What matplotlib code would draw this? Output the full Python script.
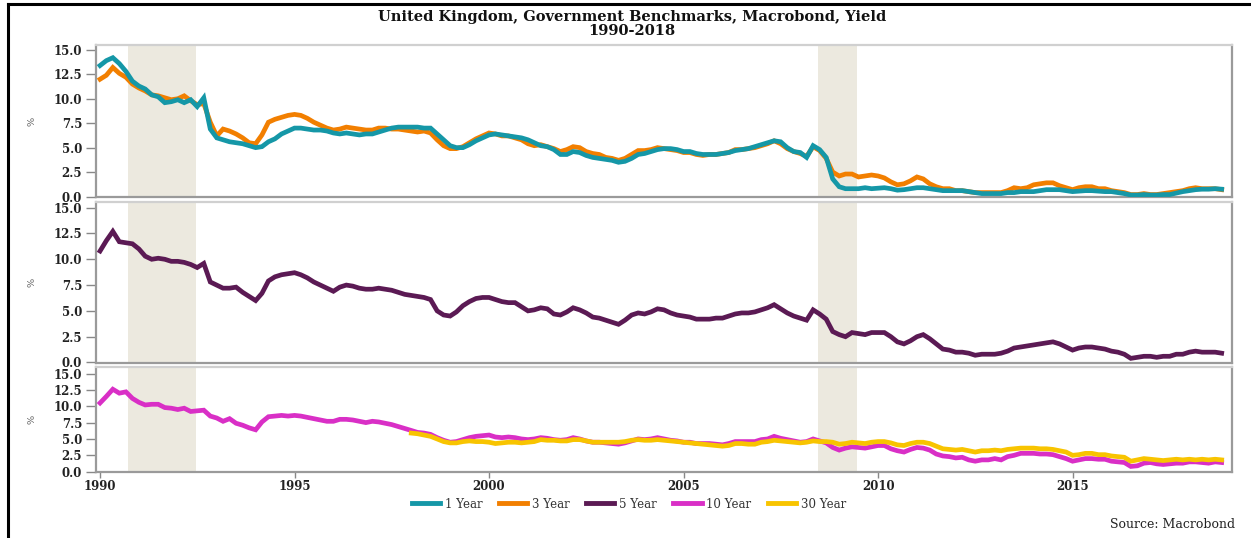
import numpy as np
import pandas as pd
import matplotlib
matplotlib.use("Agg")
import matplotlib.pyplot as plt
import matplotlib.dates as mdates
from matplotlib.lines import Line2D

# Bi-monthly observations (Jan, Mar, May, Jul, Sep, Nov), 1990-2018, in %
yield_1y = [
    13.4, 13.9, 14.2, 13.6, 12.8, 11.8,
    11.3, 11.0, 10.4, 10.2, 9.6, 9.7,
    9.9, 9.6, 9.9, 9.2, 10.1, 6.9,
    6.0, 5.8, 5.6, 5.5, 5.4, 5.2,
    5.0, 5.1, 5.6, 5.9, 6.4, 6.7,
    7.0, 7.0, 6.9, 6.8, 6.8, 6.7,
    6.5, 6.4, 6.5, 6.4, 6.3, 6.4,
    6.4, 6.6, 6.8, 7.0, 7.1, 7.1,
    7.1, 7.1, 7.0, 7.0, 6.4, 5.8,
    5.2, 5.0, 5.0, 5.3, 5.7, 6.0,
    6.3, 6.4, 6.3, 6.2, 6.1, 6.0,
    5.8, 5.5, 5.2, 5.1, 4.8, 4.3,
    4.3, 4.6, 4.5, 4.2, 4.0, 3.9,
    3.8, 3.7, 3.5, 3.6, 3.9, 4.3,
    4.4, 4.6, 4.8, 4.9, 4.9, 4.8,
    4.6, 4.6, 4.4, 4.3, 4.3, 4.3,
    4.4, 4.5, 4.7, 4.8, 4.9, 5.1,
    5.3, 5.5, 5.7, 5.6, 5.0, 4.6,
    4.5, 4.0, 5.2, 4.8, 4.0, 1.8,
    1.0, 0.8, 0.8, 0.8, 0.9, 0.8,
    0.85, 0.9, 0.8, 0.65, 0.7, 0.8,
    0.9, 0.9, 0.8, 0.7, 0.6, 0.6,
    0.6, 0.6, 0.5, 0.4, 0.3, 0.3,
    0.3, 0.3, 0.4, 0.4, 0.5, 0.5,
    0.5, 0.6, 0.7, 0.7, 0.7, 0.6,
    0.5, 0.55, 0.6, 0.6, 0.55, 0.5,
    0.5, 0.4, 0.3, 0.15, 0.15, 0.2,
    0.15, 0.15, 0.2, 0.2, 0.35, 0.5,
    0.6, 0.7, 0.75, 0.75, 0.8, 0.75,
]

yield_3y = [
    12.0, 12.4, 13.2, 12.6, 12.2, 11.5,
    11.1, 10.8, 10.4, 10.3, 10.1, 9.9,
    10.0, 10.3, 9.8, 9.4, 9.5, 7.6,
    6.2, 6.9, 6.7, 6.4, 6.0, 5.5,
    5.4, 6.3, 7.6, 7.9, 8.1, 8.3,
    8.4, 8.3, 8.0, 7.6, 7.3, 7.0,
    6.8, 6.9, 7.1, 7.0, 6.9, 6.8,
    6.8, 7.0, 7.0, 6.9, 6.9, 6.8,
    6.7, 6.6, 6.7, 6.5, 5.8, 5.2,
    4.9, 4.9, 5.1, 5.5, 5.9, 6.2,
    6.5, 6.4, 6.2, 6.2, 6.0, 5.8,
    5.4, 5.2, 5.3, 5.1, 4.9, 4.6,
    4.8, 5.1, 5.0, 4.6, 4.4, 4.3,
    4.0, 3.9, 3.7, 3.9, 4.3, 4.7,
    4.7, 4.8, 5.0, 4.9, 4.8, 4.7,
    4.5, 4.5, 4.3, 4.2, 4.3, 4.3,
    4.4, 4.5, 4.8, 4.8, 4.9, 5.0,
    5.2, 5.4, 5.7, 5.4, 4.9, 4.6,
    4.4, 4.1, 5.1, 4.7, 3.9, 2.5,
    2.1, 2.3, 2.3, 2.0, 2.1, 2.2,
    2.1, 1.9, 1.5, 1.2, 1.3, 1.6,
    2.0, 1.8, 1.3, 1.0, 0.8, 0.8,
    0.6, 0.6, 0.5, 0.4, 0.4, 0.4,
    0.4, 0.4, 0.6, 0.9, 0.8, 0.9,
    1.2, 1.3, 1.4, 1.4, 1.1, 0.9,
    0.7, 0.9, 1.0, 1.0, 0.8, 0.8,
    0.6, 0.5, 0.4, 0.2, 0.2, 0.3,
    0.2, 0.2, 0.3, 0.4, 0.5, 0.6,
    0.8, 0.9, 0.8, 0.8, 0.8, 0.7,
]

yield_5y = [
    10.8, 11.8, 12.7, 11.7, 11.6, 11.5,
    11.0, 10.3, 10.0, 10.1, 10.0, 9.8,
    9.8, 9.7, 9.5, 9.2, 9.6, 7.8,
    7.5, 7.2, 7.2, 7.3, 6.8, 6.4,
    6.0, 6.7, 7.9, 8.3, 8.5, 8.6,
    8.7, 8.5, 8.2, 7.8, 7.5, 7.2,
    6.9, 7.3, 7.5, 7.4, 7.2, 7.1,
    7.1, 7.2, 7.1, 7.0, 6.8, 6.6,
    6.5, 6.4, 6.3, 6.1, 5.0, 4.6,
    4.5, 4.9, 5.5, 5.9, 6.2, 6.3,
    6.3, 6.1, 5.9, 5.8, 5.8, 5.4,
    5.0, 5.1, 5.3, 5.2, 4.7, 4.6,
    4.9, 5.3, 5.1, 4.8, 4.4, 4.3,
    4.1, 3.9, 3.7, 4.1, 4.6, 4.8,
    4.7, 4.9, 5.2, 5.1, 4.8, 4.6,
    4.5, 4.4, 4.2, 4.2, 4.2, 4.3,
    4.3, 4.5, 4.7, 4.8, 4.8, 4.9,
    5.1, 5.3, 5.6, 5.2, 4.8, 4.5,
    4.3, 4.1, 5.1, 4.7, 4.2, 3.0,
    2.7, 2.5, 2.9, 2.8, 2.7, 2.9,
    2.9, 2.9, 2.5, 2.0, 1.8, 2.1,
    2.5, 2.7, 2.3, 1.8, 1.3, 1.2,
    1.0, 1.0, 0.9, 0.7, 0.8, 0.8,
    0.8, 0.9, 1.1, 1.4, 1.5, 1.6,
    1.7, 1.8, 1.9, 2.0, 1.8, 1.5,
    1.2, 1.4, 1.5, 1.5, 1.4, 1.3,
    1.1, 1.0, 0.8, 0.4, 0.5, 0.6,
    0.6, 0.5, 0.6, 0.6, 0.8, 0.8,
    1.0, 1.1, 1.0, 1.0, 1.0, 0.9,
]

yield_10y = [
    10.5, 11.5, 12.6, 12.0, 12.2, 11.2,
    10.6, 10.2, 10.3, 10.3, 9.8, 9.7,
    9.5, 9.7, 9.2, 9.3, 9.4, 8.5,
    8.2, 7.7, 8.1, 7.4, 7.1, 6.7,
    6.4, 7.6, 8.4, 8.5, 8.6, 8.5,
    8.6, 8.5, 8.3, 8.1, 7.9, 7.7,
    7.7, 8.0, 8.0, 7.9, 7.7, 7.5,
    7.7, 7.6, 7.4, 7.2, 6.9, 6.6,
    6.3, 6.0, 5.9, 5.7, 5.2, 4.8,
    4.5, 4.6, 4.9, 5.2, 5.4, 5.5,
    5.6, 5.3, 5.2, 5.3, 5.2, 5.0,
    4.9, 5.0, 5.2, 5.1, 4.9, 4.8,
    4.9, 5.2, 5.0, 4.7, 4.5, 4.5,
    4.4, 4.3, 4.2, 4.4, 4.7, 5.0,
    4.9, 5.0, 5.2, 5.0, 4.8, 4.7,
    4.5, 4.5, 4.3, 4.3, 4.3, 4.2,
    4.1, 4.3, 4.6, 4.6, 4.6, 4.6,
    4.9, 5.0, 5.4, 5.1, 4.9, 4.7,
    4.5, 4.6, 5.0, 4.7, 4.4, 3.7,
    3.3, 3.6, 3.8, 3.7, 3.6, 3.8,
    4.0, 4.0, 3.5, 3.2, 3.0, 3.4,
    3.7, 3.6, 3.3, 2.7, 2.4, 2.3,
    2.1, 2.2, 1.8, 1.6, 1.8, 1.8,
    2.0, 1.8, 2.3, 2.5, 2.8, 2.8,
    2.8, 2.7, 2.7, 2.6, 2.3, 2.0,
    1.6, 1.8, 2.0, 2.0, 1.9, 1.9,
    1.6, 1.5, 1.4, 0.8, 0.9, 1.3,
    1.4, 1.2, 1.1, 1.2, 1.3, 1.3,
    1.5, 1.5, 1.4, 1.3, 1.5, 1.4,
]

# 30-year series is available from 1998 onwards
yield_30y = [
    5.9, 5.8, 5.6, 5.4, 5.0, 4.6,
    4.4, 4.4, 4.6, 4.7, 4.6, 4.6,
    4.5, 4.3, 4.4, 4.5, 4.5, 4.4,
    4.5, 4.6, 4.9, 4.8, 4.8, 4.7,
    4.7, 4.9, 4.9, 4.7, 4.5, 4.5,
    4.5, 4.5, 4.5, 4.6, 4.8, 4.9,
    4.8, 4.8, 4.9, 4.8, 4.7, 4.6,
    4.5, 4.4, 4.3, 4.2, 4.1, 4.0,
    3.9, 4.0, 4.3, 4.3, 4.2, 4.2,
    4.5, 4.6, 4.8, 4.7, 4.6, 4.5,
    4.4, 4.5, 4.7, 4.6, 4.6, 4.5,
    4.2, 4.3, 4.5, 4.4, 4.3, 4.5,
    4.6, 4.6, 4.4, 4.1, 4.0, 4.3,
    4.5, 4.5, 4.3, 3.9, 3.5, 3.4,
    3.3, 3.4, 3.2, 3.0, 3.2, 3.2,
    3.3, 3.2, 3.4, 3.5, 3.6, 3.6,
    3.6, 3.5, 3.5, 3.4, 3.2, 3.0,
    2.5, 2.6, 2.8, 2.8, 2.6, 2.6,
    2.4, 2.3, 2.2, 1.6, 1.8, 2.0,
    1.9, 1.8, 1.7, 1.8, 1.9, 1.8,
    1.9, 1.8, 1.9, 1.8, 1.9, 1.8,
]

series_labels = ["1 Year", "3 Year", "5 Year", "10 Year", "30 Year"]
series_colors = ["#1597a7", "#f27f00", "#5b1a54", "#d92fc6", "#f8c400"]

recessions = [("1990-09-20", "1992-06-20"), ("2008-06-15", "2009-06-15")]
year_ticks = [1990, 1995, 2000, 2005, 2010, 2015]
y_ticks = [0.0, 2.5, 5.0, 7.5, 10.0, 12.5, 15.0]

dates = pd.date_range("1990-01-01", periods=len(yield_1y), freq="2MS")
dates_30y = dates[-len(yield_30y):]

plt.rcParams["font.family"] = ["DejaVu Serif"]

W, H = 1251, 538
fig = plt.figure(figsize=(W / 100, H / 100), dpi=100)


def px_axes(x0, y0, x1, y1):
    return fig.add_axes([x0 / W, 1 - y1 / H, (x1 - x0) / W, (y1 - y0) / H])


ax1 = px_axes(96, 45, 1232, 197)
ax2 = px_axes(96, 202, 1232, 363)
ax3 = px_axes(96, 367, 1232, 472)

panels = [
    (ax1, [(dates, yield_3y, 1), (dates, yield_1y, 0)], (-0.05, 15.5)),
    (ax2, [(dates, yield_5y, 2)], (-0.05, 15.55)),
    (ax3, [(dates, yield_10y, 3), (dates_30y, yield_30y, 4)], (-0.05, 16.0)),
]

xmin = pd.Timestamp("1989-11-24")
xmax = pd.Timestamp("2019-02-06")

for ax, lines, ylim in panels:
    for start, end in recessions:
        ax.axvspan(pd.Timestamp(start), pd.Timestamp(end), color="#ece9df", lw=0, zorder=0)
    for x, y, idx in lines:
        ax.plot(x, y, color=series_colors[idx], lw=3.4, solid_joinstyle="miter", zorder=3)
    ax.set_xlim(xmin, xmax)
    ax.set_ylim(*ylim)
    ax.set_yticks(y_ticks)
    ax.set_yticklabels([f"{v:.1f}" for v in y_ticks], fontweight="bold", fontsize=8.5, color="#222222")
    ax.set_ylabel("%", fontsize=7, color="#555555", labelpad=12)
    ax.tick_params(axis="y", length=7, width=1, color="#888888", pad=3)
    ax.spines["left"].set_color("#9a9a9a")
    ax.spines["bottom"].set_color("#9a9a9a")
    ax.spines["right"].set_color("#9a9a9a")
    ax.spines["top"].set_color("#d0d0d0")
    for s in ax.spines.values():
        s.set_linewidth(1.6)
    ax.xaxis.set_major_locator(mdates.YearLocator(5))
    if ax is not ax3:
        ax.tick_params(axis="x", length=0, labelbottom=False)

ax3.set_xticks([pd.Timestamp(f"{y}-01-01") for y in year_ticks])
ax3.set_xticklabels([str(y) for y in year_ticks], fontweight="bold", fontsize=8.5, color="#222222")
ax3.tick_params(axis="x", length=4, width=1, color="#888888", pad=2)

fig.text(632 / W, 1 - 17 / H, "United Kingdom, Government Benchmarks, Macrobond, Yield",
         ha="center", va="center", fontsize=10.5, fontweight="bold", color="#111111")
fig.text(632 / W, 1 - 31 / H, "1990-2018",
         ha="center", va="center", fontsize=10.5, fontweight="bold", color="#111111")

handles = [Line2D([], [], color=c, lw=3.5) for c in series_colors]
fig.legend(handles, series_labels, loc="center", bbox_to_anchor=(629 / W, 1 - 504 / H),
           ncol=5, frameon=False, fontsize=8.5, handlelength=2.4, columnspacing=1.4,
           handletextpad=0.4, labelcolor="#333333")

fig.text(1235 / W, 1 - 524 / H, "Source: Macrobond", ha="right", va="center",
         fontsize=9, color="#222222")

# page frame lines
fig.add_artist(Line2D([8 / W, 8 / W], [0, 1 - 4 / H], color="black", lw=2.2))
fig.add_artist(Line2D([8 / W, 1], [1 - 4 / H, 1 - 4 / H], color="black", lw=2.2))

fig.savefig("out.png", dpi=100)
